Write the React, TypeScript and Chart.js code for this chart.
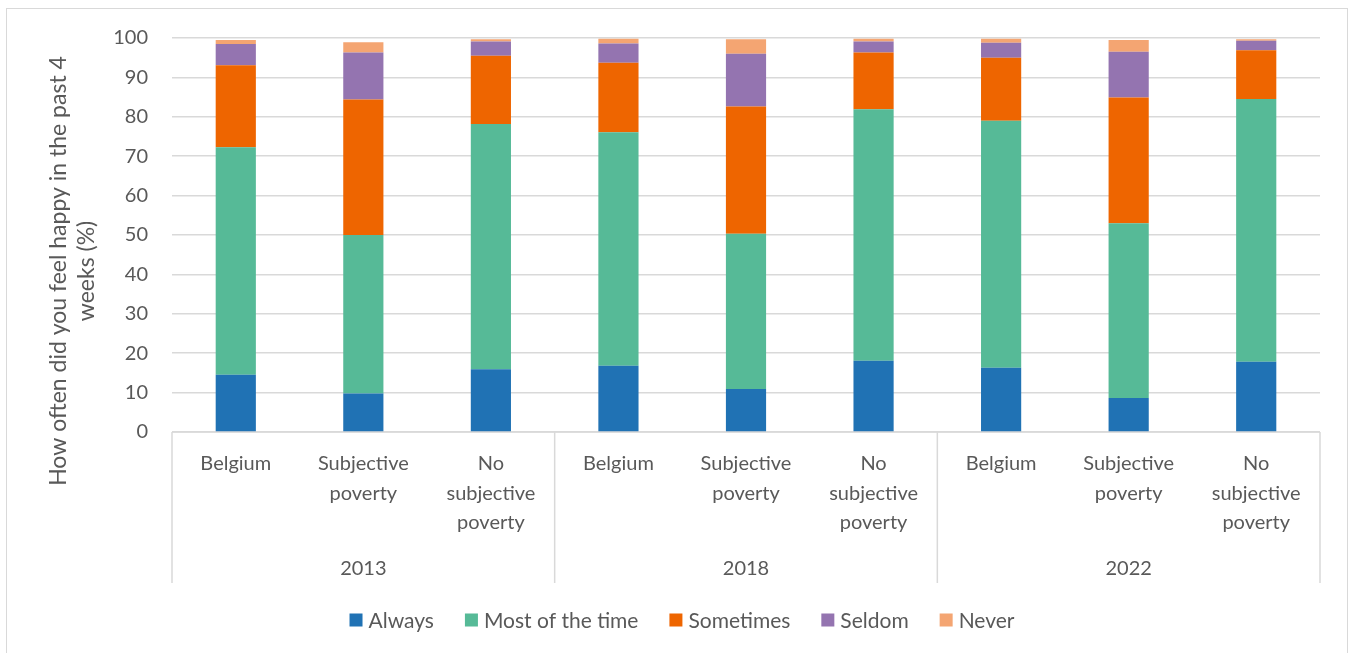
import React, { useEffect, useRef } from "react";
import { Chart, registerables } from "chart.js";

Chart.register(...registerables);

// Categories and tick labels
const years = ["2013", "2018", "2022"];
const groupLines = [["Belgium"], ["Subjective", "poverty"], ["No", "subjective", "poverty"]];
const yTitleLines = ["How often did you feel happy in the past 4", "weeks (%)"];

// Shares (%) per answer, one value per bar (year × group)
const always = [14.5, 9.8, 15.9, 16.8, 10.9, 18.1, 16.3, 8.6, 17.8];
const mostOfTheTime = [57.8, 40.2, 62.3, 59.3, 39.4, 63.8, 62.7, 44.4, 66.7];
const sometimes = [20.8, 34.4, 17.3, 17.6, 32.3, 14.4, 16.0, 31.9, 12.4];
const seldom = [5.4, 11.9, 3.6, 4.9, 13.4, 2.8, 3.8, 11.6, 2.4];
const never = [1.0, 2.6, 0.6, 1.2, 3.7, 0.7, 1.0, 3.0, 0.4];

const seriesNames = ["Always", "Most of the time", "Sometimes", "Seldom", "Never"];
const seriesValues = [always, mostOfTheTime, sometimes, seldom, never];
const seriesColors = ["#2072B4", "#56BA97", "#EE6500", "#9474B0", "#F4A572"];

const TEXT = "#595959";
const GRID = "#d9d9d9";
const FONT = "Lato";

const decorPlugin = {
  id: "decor",
  beforeDatasetsDraw(chart: any) {
    const { ctx, chartArea } = chart;
    ctx.save();
    ctx.strokeStyle = GRID;
    ctx.lineWidth = 1.5;
    ctx.beginPath();
    ctx.moveTo(chartArea.left, chartArea.bottom);
    ctx.lineTo(chartArea.right, chartArea.bottom);
    ctx.stroke();
    ctx.restore();
  },
  afterDraw(chart: any) {
    const { ctx, chartArea, scales } = chart;
    const xs = scales.x;
    const n = groupLines.length;
    const half = (xs.getPixelForValue(1) - xs.getPixelForValue(0)) / 2;
    ctx.save();

    // group separators below the axis
    ctx.strokeStyle = GRID;
    ctx.lineWidth = 1.5;
    for (let g = 0; g <= years.length; g++) {
      const px =
        g < years.length
          ? xs.getPixelForValue(g * n) - half
          : xs.getPixelForValue(years.length * n - 1) + half;
      ctx.beginPath();
      ctx.moveTo(px, chartArea.bottom);
      ctx.lineTo(px, chartArea.bottom + 151);
      ctx.stroke();
    }

    // year labels
    ctx.fillStyle = TEXT;
    ctx.font = `20px ${FONT}`;
    ctx.textAlign = "center";
    ctx.textBaseline = "middle";
    years.forEach((yr, g) => {
      const cx = (xs.getPixelForValue(g * n) + xs.getPixelForValue(g * n + n - 1)) / 2;
      ctx.fillText(yr, cx, chartArea.bottom + 137);
    });

    // y-axis title (two lines, rotated)
    ctx.save();
    ctx.translate(73.5, chartArea.top + 233);
    ctx.rotate(-Math.PI / 2);
    ctx.font = `23px ${FONT}`;
    ctx.fillText(yTitleLines[0], 0, -14.5);
    ctx.fillText(yTitleLines[1], 0, 13.5);
    ctx.restore();

    // legend
    ctx.font = `21px ${FONT}`;
    ctx.textAlign = "left";
    const box = 13;
    const gapText = 6;
    const gapItem = 31;
    const widths = seriesNames.map((s) => box + gapText + ctx.measureText(s).width);
    const total = widths.reduce((a, b) => a + b, 0) + gapItem * (widths.length - 1);
    let lx = chart.width / 2 + 5 - total / 2;
    const ly = chartArea.bottom + 188;
    seriesNames.forEach((s, i) => {
      ctx.fillStyle = seriesColors[i];
      ctx.fillRect(lx, ly - box / 2, box, box);
      ctx.fillStyle = TEXT;
      ctx.fillText(s, lx + box + gapText, ly + 1);
      lx += widths[i] + gapItem;
    });

    ctx.restore();
  },
};

export default function App() {
  const canvasRef = useRef<HTMLCanvasElement | null>(null);

  useEffect(() => {
    if (!canvasRef.current) return;
    const labels = years.flatMap(() => groupLines);
    const chart = new Chart(canvasRef.current, {
      type: "bar",
      data: {
        labels,
        datasets: seriesNames.map((name, i) => ({
          label: name,
          data: seriesValues[i],
          backgroundColor: seriesColors[i],
          borderWidth: 0,
          categoryPercentage: 1,
          barPercentage: 0.315,
        })),
      },
      options: {
        animation: false,
        responsive: false,
        maintainAspectRatio: false,
        layout: { padding: { top: 38, right: 34, bottom: 71, left: 0 } },
        plugins: {
          legend: { display: false },
          tooltip: { enabled: false },
        },
        scales: {
          x: {
            stacked: true,
            grid: { display: false },
            border: { display: false },
            ticks: {
              autoSkip: false,
              maxRotation: 0,
              padding: 9,
              color: TEXT,
              font: { family: FONT, size: 20, lineHeight: 1.47 },
            },
            afterFit: (scale: any) => {
              scale.height = 150;
            },
          },
          y: {
            stacked: true,
            min: 0,
            max: 100,
            grid: { color: GRID, lineWidth: 1.5, drawTicks: false },
            border: { display: false },
            ticks: {
              stepSize: 10,
              padding: 24,
              color: TEXT,
              font: { family: FONT, size: 20 },
            },
            afterFit: (scale: any) => {
              scale.width = 172;
            },
          },
        },
      },
      plugins: [decorPlugin],
    });
    return () => chart.destroy();
  }, []);

  return (
    <div
      style={{
        position: "absolute",
        left: 0,
        top: 0,
        width: 1354,
        height: 653,
        overflow: "hidden",
        background: "#fff",
      }}
    >
      <div
        style={{
          position: "absolute",
          left: 6,
          top: 8,
          width: 1342,
          height: 645,
          boxSizing: "border-box",
          border: "1.5px solid #d9d9d9",
          borderBottom: "none",
        }}
      />
      <canvas
        ref={canvasRef}
        width={1354}
        height={653}
        style={{ position: "absolute", left: 0, top: 0, width: 1354, height: 653 }}
      />
    </div>
  );
}
